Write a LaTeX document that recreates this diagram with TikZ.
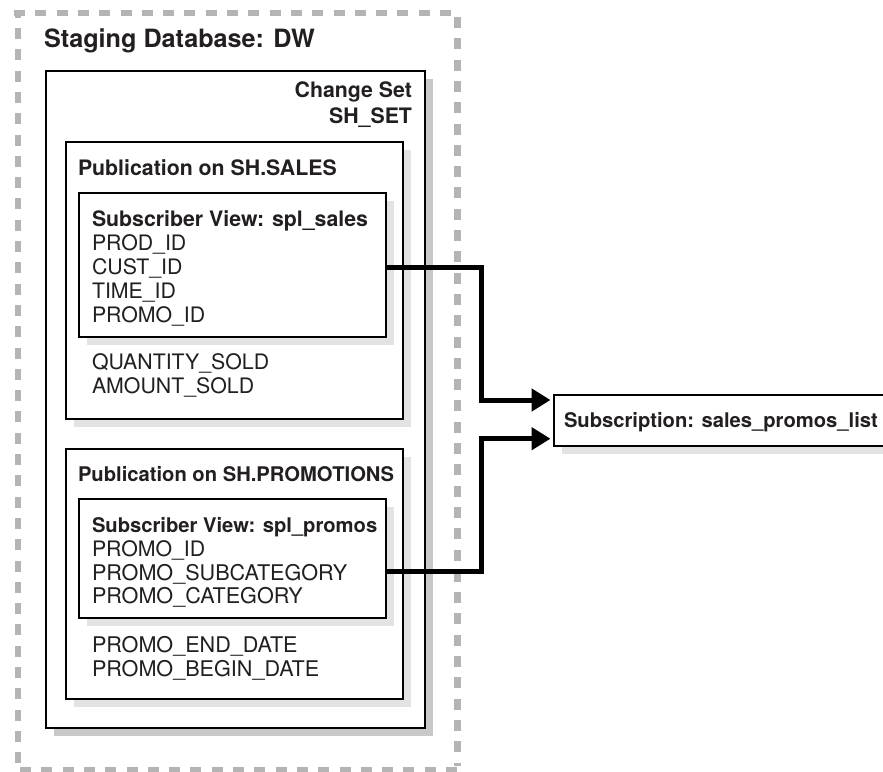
\documentclass[tikz,border=0pt]{standalone}
\usepackage{fontspec}
\setmainfont{TeX Gyre Heros}
\usetikzlibrary{arrows.meta,calc}
\definecolor{dashgray}{HTML}{B4B4B4}
\definecolor{shadowdark}{HTML}{C8C8C8}
\definecolor{shadowlight}{HTML}{E3E3E3}
\definecolor{inktext}{HTML}{231F20}
\tikzset{
  x=1pt,y=-1pt,
  txt/.style={anchor=base west,inner sep=0pt,outer sep=0pt,text=inktext,font=\fontsize{21.3}{24}\selectfont},
  txtwide/.style={txt,font=\fontsize{21.6}{24}\selectfont},
  btxt/.style={txt,font=\fontsize{21.3}{24}\selectfont\bfseries},
  btxtsmall/.style={txt,font=\fontsize{20.2}{24}\selectfont\bfseries},
  conn/.style={line width=5pt,draw=black,miter limit=10,-{Triangle[length=19pt,width=22pt]}},
  frameside/.style={dashgray,line width=6.5pt,dash pattern=on 11pt off 10.3pt},
}
\newcommand{\boxat}[6]{% name, x1,y1,x2,y2, shadow colour
  \fill[#6] (#2+8,#3+8) rectangle (#4+8,#5+8);
  \node[draw=black,line width=2pt,fill=white,inner sep=0pt,outer sep=0pt,
        minimum width=#4-#2,minimum height=#5-#3] (#1) at ({(#2+#4)/2},{(#3+#5)/2}) {};
}
\begin{document}
\begin{tikzpicture}
\useasboundingbox (0,0) rectangle (883,771);
% dashed outer frame
\draw[frameside] (14,13) -- (452,13);
\draw[frameside] (457.7,17) -- (457.7,766);
\draw[frameside] (20,770.5) -- (461,770.5);
\draw[frameside,dash phase=3.3pt] (18,10) -- (18,763.5);
% boxes
\boxat{cs}{46}{71}{425}{728}{shadowdark}
\boxat{pa}{66}{142}{403}{419}{shadowlight}
\boxat{va}{79}{193}{386}{337}{shadowlight}
\boxat{pb}{66}{449}{403}{699}{shadowlight}
\boxat{vb}{79}{499}{386}{618}{shadowlight}
\boxat{sub}{554}{395}{900}{446}{shadowlight}
% texts
\node[btxt,font=\fontsize{25.2}{28}\selectfont\bfseries] (t0) at (44,47) {Staging Database: DW};
\node[btxt,anchor=base east] (t1) at (412,97) {Change Set};
\node[btxt,anchor=base east] (t2) at (412,123) {SH\_SET};
\node[btxt] (t3) at (78,175) {Publication on SH.SALES};
\node[btxt] (t4) at (92,226) {Subscriber View: spl\_sales};
\node[txt] (t5) at (92,250) {PROD\_ID};
\node[txt] (t6) at (92,274) {CUST\_ID};
\node[txt] (t7) at (92,298) {TIME\_ID};
\node[txt] (t8) at (92,322) {PROMO\_ID};
\node[txt] (t9) at (92,369) {QUANTITY\_SOLD};
\node[txt] (t10) at (92,393) {AMOUNT\_SOLD};
\node[btxtsmall] (t11) at (78,481) {Publication on SH.PROMOTIONS};
\node[btxtsmall] (t12) at (92,532) {Subscriber View: spl\_promos};
\node[txt] (t13) at (92,556) {PROMO\_ID};
\node[txtwide] (t14) at (92,580) {PROMO\_SUBCATEGORY};
\node[txtwide] (t15) at (92,603) {PROMO\_CATEGORY};
\node[txtwide] (t16) at (92,652) {PROMO\_END\_DATE};
\node[txtwide] (t17) at (92,676) {PROMO\_BEGIN\_DATE};
\node[btxtsmall] (t18) at (564,427) {Subscription: sales\_promos\_list};
% connectors
\coordinate (inA) at (550.5,400);
\coordinate (inB) at (550.5,438.7);
\draw[conn] ([yshift=-2pt]va.east) -- (481.7,267) |- (inA);
\draw[conn] ([yshift=-13.2pt]vb.east) -- (481.7,571.7) |- (inB);
\end{tikzpicture}
\end{document}
